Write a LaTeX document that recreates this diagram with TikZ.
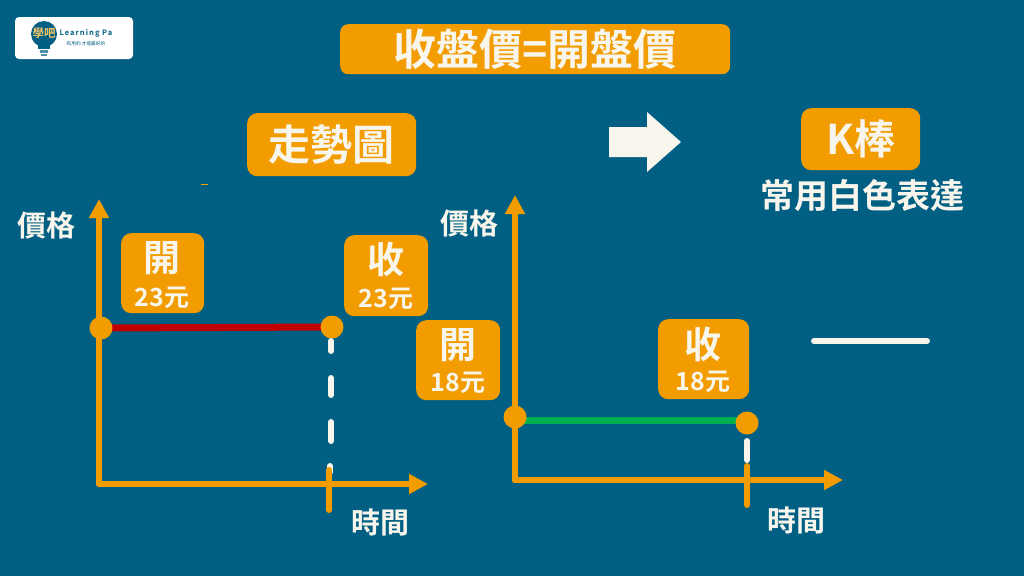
\documentclass[tikz,border=0pt]{standalone}
\usepackage{fontspec}
\setmainfont{Noto Sans CJK TC}[BoldFont={* Bold}]
\usetikzlibrary{arrows.meta,positioning}
\definecolor{bgblue}{HTML}{005F83}
\definecolor{amber}{HTML}{F29C00}
\definecolor{cream}{HTML}{F8F5EC}
\definecolor{redline}{HTML}{C00000}
\definecolor{greenline}{HTML}{00B050}
\newcommand{\fs}[1]{\fontsize{#1}{#1}\selectfont\bfseries}
\tikzset{
  x=1pt,y=-1pt,
  box/.style={fill=amber,rounded corners=#1,inner sep=0pt,text=cream,align=center,anchor=north west},
  box/.default=9pt,
  lab/.style={text=cream,inner sep=0pt,font=\fs{29}},
  axis/.style={draw=amber,line width=6pt,line cap=round,-{Triangle[length=19pt,width=19pt]}},
  tickmark/.style={draw=amber,line width=6pt,line cap=round},
  dot/.style={circle,fill=amber,minimum size=23pt,inner sep=0pt},
  drop/.style={draw=cream,line width=6pt,line cap=round},
}
\begin{document}
\begin{tikzpicture}
\path[use as bounding box,fill=bgblue] (0,0) rectangle (1024,576);

% logo
\fill[white,rounded corners=4pt] (15,17) rectangle (133,59);
\fill[bgblue] (44,34) circle (13);
\fill[bgblue] (38,44) rectangle (50,49);
\fill[bgblue!70] (40,50) rectangle (48,52.5);
\fill[bgblue!70] (41,53.5) rectangle (47,55.5);
\node[inner sep=0pt,text=amber!60!white,font=\fs{11.5}] (logoicon) at (44,33) {學吧};
\node[inner sep=0pt,text=bgblue,font=\fontsize{7.5}{7.5}\selectfont\bfseries\addfontfeature{LetterSpace=14}] (logoname) at (86,33.5) {Learning Pa};
\node[inner sep=0pt,text=bgblue,font=\fontsize{4.7}{4.7}\selectfont] (logosub) at (86,44) {有用的 才是最好的};

% headings
\node[box=8pt,minimum width=390pt,minimum height=50pt,font=\fs{43}] (title) at (340,24) {收盤價=開盤價};
\node[box=10pt,minimum width=169pt,minimum height=63pt,font=\fs{42}] (trend) at (247,113) {走勢圖};
\node[box=10pt,minimum width=119pt,minimum height=62pt,font=\fs{41}] (kbar) at (801,108) {K棒};
\node[text=cream,inner sep=0pt,font=\fs{34}] (kcap) at (862,196) {常用白色表達};
\fill[cream] (609,127) -- (647,127) -- (647,112) -- (681,142) -- (647,172) -- (647,157) -- (609,157) -- cycle;
\fill[amber] (201,184) rectangle (208,185);
\fill[amber] (90,218) -- (93,213) -- (93,218) -- cycle;

% left chart
\coordinate (lo) at (99,484);
\coordinate (ly) at (99,199);
\coordinate (lx) at (428,484);
\draw[axis] (lo) -- (ly);
\draw[axis] (lo) -- (lx);
\node[lab] (lprice) at (46,225.5) {價格};
\node[lab] (ltime) at (380,522) {時間};
\coordinate (lr1) at (101,328);
\coordinate (lr2) at (332,327);
\draw[redline,line width=7pt] (lr1) -- (lr2);
\node[dot] (lopen) at (lr1) {};
\node[dot] (lclose) at (lr2) {};
\coordinate (lt1) at (329,470);
\coordinate (lt2) at (329,510);
\coordinate (ld1) at (331,341);
\coordinate (ld2) at (331,351);
\coordinate (ld3) at (331,378);
\coordinate (ld4) at (331,395);
\coordinate (ld5) at (331,422);
\coordinate (ld6) at (331,441);
\coordinate (ld7) at (330,466);
\coordinate (ld8) at (330,472);
\draw[drop] (ld1) -- (ld2);
\draw[drop] (ld3) -- (ld4);
\draw[drop] (ld5) -- (ld6);
\draw[drop] (ld7) -- (ld8);
\draw[tickmark] (lt1) -- (lt2);
\node[box=10pt,minimum width=83pt,minimum height=80pt] (lobox) at (121,233) {};
\node[text=cream,inner sep=0pt,font=\fs{37}] (lot) at (162,258.5) {開};
\node[text=cream,inner sep=0pt,font=\fs{25}] (lov) at (162,297.5) {23元};
\node[box=10pt,minimum width=84pt,minimum height=81pt] (lcbox) at (344,235) {};
\node[text=cream,inner sep=0pt,font=\fs{37}] (lct) at (386,259.5) {收};
\node[text=cream,inner sep=0pt,font=\fs{25}] (lcv) at (386,299) {23元};

% right chart
\coordinate (ro) at (515,480);
\coordinate (ry) at (515,195);
\coordinate (rx) at (843,480);
\draw[axis] (ro) -- (ry);
\draw[axis] (ro) -- (rx);
\node[lab] (rprice) at (469,223.5) {價格};
\node[lab] (rtime) at (796,520) {時間};
\coordinate (rg1) at (515,420);
\coordinate (rg2) at (747,420);
\draw[greenline,line width=7pt] (rg1) -- (rg2);
\node[dot] (ropen) at (515,417) {};
\node[dot] (rclose) at (747,423) {};
\coordinate (rd1) at (747,441);
\coordinate (rd2) at (747,460);
\coordinate (rt1) at (747,466);
\coordinate (rt2) at (747,505);
\draw[drop] (rd1) -- (rd2);
\draw[tickmark] (rt1) -- (rt2);
\node[box=10pt,minimum width=84pt,minimum height=80pt] (robox) at (416,320) {};
\node[text=cream,inner sep=0pt,font=\fs{37}] (rot) at (458,345) {開};
\node[text=cream,inner sep=0pt,font=\fs{25}] (rov) at (458,383) {18元};
\node[box=10pt,minimum width=91pt,minimum height=80pt] (rcbox) at (658,319) {};
\node[text=cream,inner sep=0pt,font=\fs{37}] (rct) at (703,344) {收};
\node[text=cream,inner sep=0pt,font=\fs{25}] (rcv) at (703,382) {18元};

% white K bar
\coordinate (k1) at (814,341);
\coordinate (k2) at (927,341);
\draw[drop] (k1) -- (k2);
\end{tikzpicture}
\end{document}
